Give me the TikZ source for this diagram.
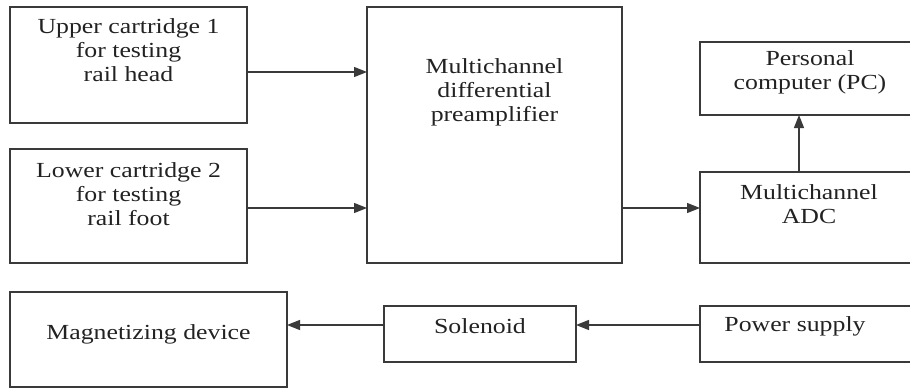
\documentclass[tikz,border=0pt]{standalone}
\usepackage{fontspec}
\setmainfont[FakeStretch=1.2]{Liberation Serif}
\usetikzlibrary{arrows.meta}
\definecolor{ln}{HTML}{3A3A3A}
\definecolor{tx}{HTML}{222222}
\begin{document}
\begin{tikzpicture}[x=1pt,y=-1pt,
  box/.style={draw=ln,line width=1.3pt,minimum width=#1,inner sep=0pt,outer sep=0pt},
  lbl/.style={text=tx,align=center,inner sep=0pt,font=\fontsize{21.5}{24}\selectfont},
  arr/.style={draw=ln,line width=1.3pt,-{Triangle[length=13pt,width=10pt]}}]
\clip (0,0) rectangle (910,388);
% boxes
\node[box=237pt,minimum height=116pt] (up)  at (128.5,65) {};
\node[box=237pt,minimum height=114pt] (low) at (128.5,206) {};
\node[box=255pt,minimum height=256pt] (pre) at (494.5,135) {};
\node[box=215pt,minimum height=73pt]  (pc)  at (807.5,78.5) {};
\node[box=215pt,minimum height=91pt]  (adc) at (807.5,217.5) {};
\node[box=277pt,minimum height=95pt]  (mag) at (148.5,339.5) {};
\node[box=192pt,minimum height=56pt]  (sol) at (480,334) {};
\node[box=215pt,minimum height=56pt]  (pow) at (807.5,334) {};
% texts
\node[lbl] (tup)  at (128.5,50.5) {Upper cartridge 1\\for testing\\rail head};
\node[lbl] (tlow) at (128.5,194) {Lower cartridge 2\\for testing\\rail foot};
\node[lbl] (tpre) at (494.5,92) {Multichannel\\differential\\preamplifier};
\node[lbl] (tpc)  at (810,72) {Personal\\computer (PC)};
\node[lbl] (tadc) at (809,204.5) {Multichannel\\ADC};
\node[lbl] (tmag) at (148.5,334) {Magnetizing device};
\node[lbl] (tsol) at (480,326) {Solenoid};
\node[lbl] (tpow) at (795,326) {Power supply};
% connectors
\draw[arr] (up.east |- 0,72) -- (pre.west |- 0,72);
\draw[arr] (low.east |- 0,208) -- (pre.west |- 0,208);
\draw[arr] (pre.east |- 0,208) -- (adc.west |- 0,208);
\draw[arr] (adc.north -| 799,0) -- (pc.south -| 799,0);
\draw[arr] (pow.west |- 0,325) -- (sol.east |- 0,325);
\draw[arr] (sol.west |- 0,325) -- (mag.east |- 0,325);
\end{tikzpicture}
\end{document}
